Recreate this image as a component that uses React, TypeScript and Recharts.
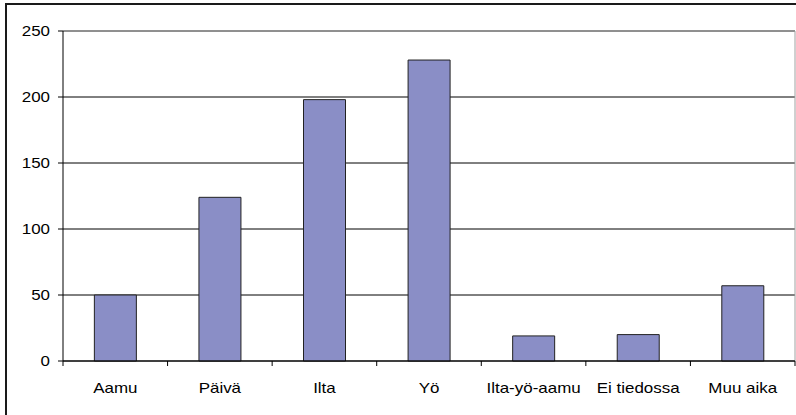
import React from "react";
import { BarChart, Bar, XAxis, YAxis, CartesianGrid, ReferenceLine } from "recharts";

const categories = ["Aamu", "Päivä", "Ilta", "Yö", "Ilta-yö-aamu", "Ei tiedossa", "Muu aika"];
const values = [50, 124, 198, 228, 19, 20, 57];
const yTicks = [0, 50, 100, 150, 200, 250];

const data = categories.map((name, i) => ({ name, value: values[i] }));

const FONT = "'Liberation Sans', Arial, sans-serif";
const FS = 15;
const SX = 1.13;
const X_TICK_SIZE = 5;
const X_TICK_MARGIN = 16;

const XTick = (props: any) => {
  const { x, y, payload, index, visibleTicksCount } = props;
  const half = payload && payload.offset ? payload.offset : 0;
  const axisY = y - X_TICK_SIZE - X_TICK_MARGIN;
  const isLast = index === (visibleTicksCount ?? categories.length) - 1;
  return (
    <g>
      <line x1={x - half} x2={x - half} y1={axisY} y2={axisY + X_TICK_SIZE} stroke="#000" />
      {isLast && <line x1={x + half} x2={x + half} y1={axisY} y2={axisY + X_TICK_SIZE} stroke="#000" />}
      <text
        transform={`translate(${x},${y + 11}) scale(${SX},1)`}
        textAnchor="middle"
        fontFamily={FONT}
        fontSize={FS}
        fill="#000"
      >
        {payload.value}
      </text>
    </g>
  );
};

const YTick = (props: any) => {
  const { x, y, payload } = props;
  return (
    <text
      transform={`translate(${x},${y + 5.3}) scale(${SX},1)`}
      textAnchor="end"
      fontFamily={FONT}
      fontSize={FS}
      fill="#000"
    >
      {payload.value}
    </text>
  );
};

export default function App() {
  return (
    <div style={{ position: "absolute", left: 0, top: 0, width: 796, height: 415, overflow: "hidden", background: "#fff" }}>
      <div
        style={{
          position: "absolute",
          left: 5,
          top: 3,
          width: 900,
          height: 600,
          borderLeft: "2px solid #1a1a1a",
          borderTop: "2px solid #1a1a1a",
        }}
      />
      <div style={{ position: "absolute", left: 0, top: 0 }}>
        <BarChart
          width={796}
          height={415}
          data={data}
          margin={{ top: 31, right: 1, bottom: 0, left: 0 }}
          barCategoryGap="30%"
        >
          <CartesianGrid vertical={false} stroke="#000" strokeWidth={1} />
          <XAxis
            xAxisId="edges"
            type="number"
            dataKey="none"
            domain={[0, 7]}
            tick={false}
            tickLine={false}
            axisLine={false}
            height={0}
            allowDataOverflow
          />
          <XAxis
            dataKey="name"
            tickLine={false}
            axisLine={{ stroke: "#000" }}
            tickSize={X_TICK_SIZE}
            tickMargin={X_TICK_MARGIN}
            tick={<XTick />}
            height={54}
            interval={0}
          />
          <YAxis
            domain={[0, 250]}
            ticks={yTicks}
            tickSize={5}
            tickMargin={8}
            tick={<YTick />}
            tickLine={{ stroke: "#000" }}
            axisLine={{ stroke: "#000" }}
            width={63}
          />
          <ReferenceLine y={250} stroke="#a0a0a0" strokeWidth={1} />
          <ReferenceLine x={7} xAxisId="edges" stroke="#a0a0a0" strokeWidth={1} />
          <Bar dataKey="value" fill="#8A8EC6" stroke="#222" strokeWidth={1} isAnimationActive={false} />
        </BarChart>
      </div>
    </div>
  );
}
